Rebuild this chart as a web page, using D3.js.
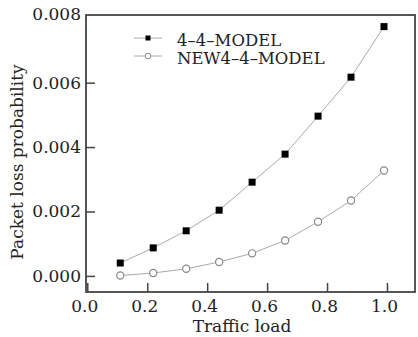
<!DOCTYPE html>
<html><head><meta charset="utf-8">
<script src="https://cdn.jsdelivr.net/npm/d3@7"></script>
<style>body{margin:0;background:#fff}svg{display:block}</style>
</head><body>
<script>
const xLoad = [0.11, 0.22, 0.33, 0.44, 0.55, 0.66, 0.77, 0.88, 0.99];
const model44 = [0.00040, 0.00087, 0.00140, 0.00204, 0.00291, 0.00378, 0.00496, 0.00617, 0.00774];
const newModel44 = [0.00001, 0.00009, 0.00022, 0.00043, 0.00070, 0.00110, 0.00168, 0.00234, 0.00327];
const xTicks = [0.0, 0.2, 0.4, 0.6, 0.8, 1.0];
const yTicks = [0.000, 0.002, 0.004, 0.006, 0.008];
const seriesNames = ["4\u20134\u2013MODEL", "NEW4\u20134\u2013MODEL"];

const W = 418, H = 337;
const L = 86, R = 415, T = 15, B = 292;
const font = "'DejaVu Serif', serif";

const svg = d3.select("body").append("svg").attr("width", W).attr("height", H);
const x = d3.scaleLinear().domain([-0.0043, 1.0935]).range([L, R]);
const y = d3.scaleLinear().domain([-0.0005, 0.0081]).range([B, T]);

// axes
const xAxis = svg.append("g").attr("transform", `translate(0,${B})`)
  .call(d3.axisBottom(x).tickValues(xTicks).tickFormat(d3.format(".1f")).tickSizeInner(-9).tickSizeOuter(0).tickPadding(8));
const yAxis = svg.append("g").attr("transform", `translate(${L},0)`)
  .call(d3.axisLeft(y).tickValues(yTicks).tickFormat(d3.format(".3f")).tickSizeInner(-9).tickSizeOuter(0).tickPadding(5));
[xAxis, yAxis].forEach(g => {
  g.select(".domain").remove();
  g.selectAll(".tick line").attr("stroke", "#444").attr("stroke-width", 1.5);
  g.selectAll(".tick text").attr("font-family", font).attr("font-size", 17).attr("fill", "#222");
});
xAxis.selectAll(".tick text").attr("dx", -3);
yAxis.selectAll(".tick").filter(d => d === 0.008).select("line").remove();
yAxis.selectAll(".tick").filter(d => d === 0.008).select("text").attr("dy", "0.1em");

// frame
svg.append("rect").attr("x", L).attr("y", T).attr("width", R - L).attr("height", B - T)
  .attr("fill", "none").attr("stroke", "#444").attr("stroke-width", 1.8);

const line = d3.line().x((d, i) => x(xLoad[i])).y(d => y(d));
svg.append("path").datum(model44).attr("d", line).attr("fill", "none").attr("stroke", "#aaa").attr("stroke-width", 1);
svg.append("path").datum(newModel44).attr("d", line).attr("fill", "none").attr("stroke", "#aaa").attr("stroke-width", 1);

svg.append("g").selectAll("rect").data(model44).join("rect")
  .attr("x", (d, i) => x(xLoad[i]) - 3.5).attr("y", d => y(d) - 3.5)
  .attr("width", 7).attr("height", 7).attr("fill", "#000");
svg.append("g").selectAll("circle").data(newModel44).join("circle")
  .attr("cx", (d, i) => x(xLoad[i])).attr("cy", d => y(d)).attr("r", 3.6)
  .attr("fill", "#fff").attr("stroke", "#888").attr("stroke-width", 1.2);

// legend
const leg = svg.append("g");
[0, 1].forEach(i => {
  const ly = 38 + i * 18;
  leg.append("line").attr("x1", 134).attr("x2", 162).attr("y1", ly).attr("y2", ly).attr("stroke", "#aaa").attr("stroke-width", 1);
  if (i === 0) leg.append("rect").attr("x", 145.5).attr("y", ly - 2.5).attr("width", 5).attr("height", 5).attr("fill", "#000");
  else leg.append("circle").attr("cx", 148).attr("cy", ly).attr("r", 2.8).attr("fill", "#fff").attr("stroke", "#888").attr("stroke-width", 1);
  leg.append("text").attr("x", 177).attr("y", ly + 8).attr("font-family", font).attr("font-size", 16.5).attr("fill", "#222").text(seriesNames[i]);
});

// titles
svg.append("text").attr("x", 242).attr("y", 332).attr("text-anchor", "middle")
  .attr("font-family", font).attr("font-size", 17).attr("fill", "#222").text("Traffic load");
svg.append("text").attr("transform", `translate(23,162) rotate(-90)`).attr("text-anchor", "middle")
  .attr("font-family", font).attr("font-size", 17).attr("fill", "#222").text("Packet loss probability");
</script>
</body></html>
